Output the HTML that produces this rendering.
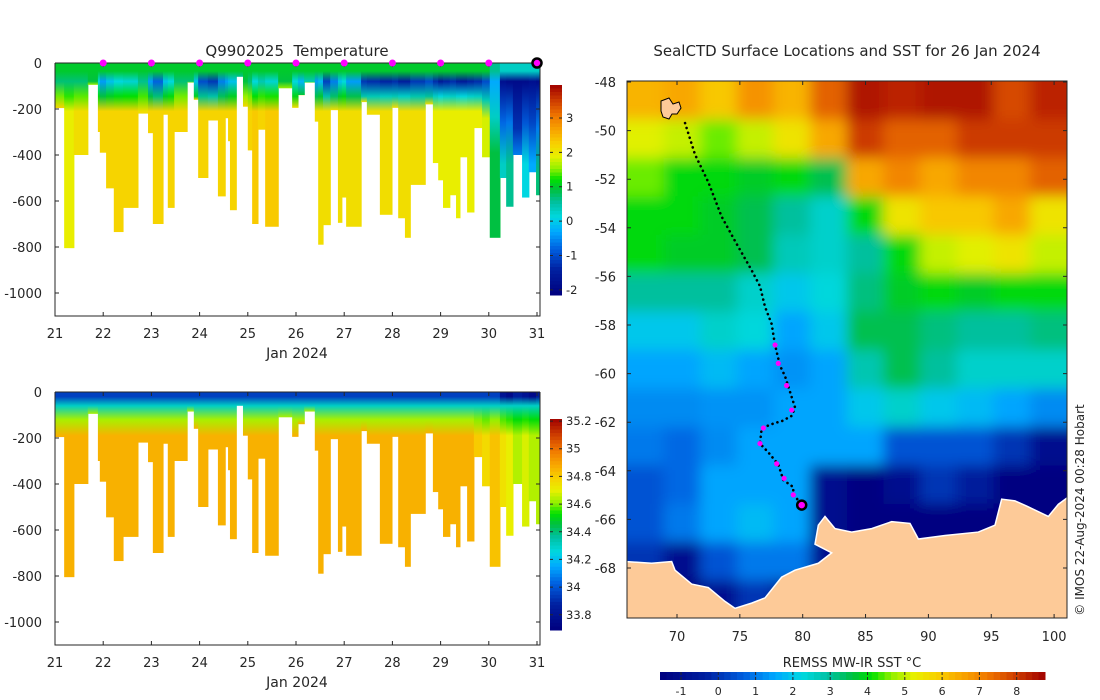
<!DOCTYPE html>
<html><head><meta charset="utf-8"><style>
html,body{margin:0;padding:0;background:#fff;}
svg{display:block;font-family:"DejaVu Sans","Liberation Sans",sans-serif;}
text{fill:#262626;}
</style></head><body>
<svg id="fig" width="1100" height="700" viewBox="0 0 1100 700" xmlns="http://www.w3.org/2000/svg">
<defs>
<filter id="blur" x="-5%" y="-5%" width="110%" height="110%"><feGaussianBlur stdDeviation="7"/></filter>
<clipPath id="mapclip"><rect x="627" y="81" width="440" height="537"/></clipPath>
<clipPath id="tclip"><rect x="55" y="63" width="485" height="253"/></clipPath>
<clipPath id="sclip"><rect x="55" y="392" width="485" height="253"/></clipPath>
</defs>
<text x="297" y="56" text-anchor="middle" font-size="15" style="white-space:pre">Q9902025  Temperature</text>
<text x="847" y="56" text-anchor="middle" font-size="15">SealCTD Surface Locations and SST for 26 Jan 2024</text>
<text x="297" y="358" text-anchor="middle" font-size="14">Jan 2024</text>
<text x="297" y="687" text-anchor="middle" font-size="14">Jan 2024</text>
<text x="852" y="667" text-anchor="middle" font-size="13">REMSS MW-IR SST °C</text>
<text transform="translate(1084,510) rotate(-90)" text-anchor="middle" font-size="12">© IMOS 22-Aug-2024 00:28 Hobart</text>
<g id="top"></g>
<g id="bot"></g>
<g id="map"></g>
</svg>
<script>
// ---------- profile data ----------
const profDays = [21.00,21.19,21.39,21.68,21.89,21.93,22.06,22.22,22.41,22.72,22.93,23.03,23.24,23.34,23.47,23.74,23.88,23.97,24.17,24.38,24.53,24.59,24.63,24.76,24.90,25.00,25.09,25.21,25.36,25.63,25.92,26.04,26.17,26.39,26.46,26.56,26.71,26.87,26.95,27.04,27.35,27.47,27.74,27.99,28.12,28.26,28.37,28.68,28.84,28.95,29.05,29.19,29.32,29.40,29.55,29.69,29.86,30.02,30.23,30.36,30.50,30.69,30.83,30.98];
const profEnd = 31.06;
const profDepth = [196,805,400,95,300,390,545,735,630,220,305,700,225,630,300,85,160,500,250,580,240,340,640,60,190,380,700,290,712,110,195,140,85,255,790,705,205,695,585,712,170,225,660,195,675,760,530,180,435,510,630,575,675,410,650,283,410,760,500,625,400,585,475,575];
const tSurf = [1,1,1,1,1,1,1,1,1,1,1,1,1,1,1,1,1,1,1,1,1,1,1,1,1,1,1,1,1,1,1,1,1,1,1,1,1,1,1,1,1,1,1,1,1,1,1,1,1,1,1,1,1,1,1,1,1,0.6,0.3,0.3,0.3,0.3,0.3,0.3];
const tMin = [0.7,0.7,0.7,0.9,0.1,-0.4,-0.1,0.1,0.2,0.6,-0.4,-0.8,-0.1,0.1,0.7,0.7,-0.1,-1.0,-1.2,-0.6,-0.4,-0.2,-0.1,0.6,0.9,0.7,0.1,0.4,0.2,0.9,0.1,-0.2,0.4,-0.4,-0.2,-1.1,-0.6,-0.1,0.1,-0.4,-1.2,-1.3,-1.4,-1.3,-1.5,-1.5,-1.2,-1.0,-1.3,-1.6,-1.4,-1.3,-1.5,-1.6,-1.4,-1.3,-1.0,-0.3,-1.8,-1.9,-1.9,-1.9,-1.8,-1.9];
const tDeep = [2.2,1.9,2.1,2.2,2.2,2.2,2.2,2.2,2.2,2.1,2.2,2.2,2.2,2.2,2.2,2.2,2.2,2.2,2.2,2.2,2.2,2.2,2.2,2.2,2.2,2.2,2.3,2.2,2.3,2.2,2.1,2.1,2.1,2.1,2.1,2.1,2.1,2.1,2.1,2.1,2.1,2.1,2.1,2.1,2.1,2.1,2.1,2.1,1.9,1.9,1.9,1.9,1.9,1.9,1.9,1.9,1.8,0.9,0.3,0.6,-0.6,0.1,-0.3,0.7];
const thermDepth = [170,170,170,170,170,170,170,170,170,170,170,170,170,170,170,170,170,170,170,170,170,170,170,170,170,170,170,170,170,170,170,170,170,170,170,170,170,170,170,170,170,170,170,170,170,170,170,170,170,170,170,170,170,170,170,170,200,350,400,400,450,400,400,450];
const sSurf = [33.95,33.95,33.95,33.95,33.95,33.95,33.95,33.95,33.95,33.95,33.95,33.95,33.95,33.95,33.95,33.95,33.95,33.95,33.95,33.95,33.95,33.95,33.95,33.95,33.95,33.95,33.95,33.95,33.95,33.95,33.95,33.95,33.95,33.95,33.95,33.95,33.95,33.95,33.95,33.95,33.95,33.95,33.95,33.95,33.95,33.95,33.95,33.95,33.95,33.95,33.95,33.95,33.95,33.95,33.95,33.95,33.95,33.95,33.8,33.75,33.85,33.8,33.75,33.85];
const sDeep = [34.86,34.86,34.86,34.86,34.86,34.86,34.86,34.86,34.86,34.86,34.86,34.86,34.86,34.86,34.86,34.86,34.86,34.86,34.86,34.86,34.86,34.86,34.86,34.86,34.86,34.86,34.86,34.86,34.86,34.86,34.86,34.86,34.86,34.86,34.86,34.86,34.86,34.86,34.86,34.86,34.86,34.86,34.86,34.86,34.86,34.86,34.86,34.86,34.86,34.86,34.86,34.86,34.86,34.86,34.86,34.8,34.76,34.82,34.74,34.7,34.64,34.68,34.64,34.64];
const markerDays = [22,23,24,25,26,27,28,29,30];
const lastDay = 31;
const dayTicks = [21,22,23,24,25,26,27,28,29,30,31];
const depthTicks = [0,-200,-400,-600,-800,-1000];
const tempTicks = [3,2,1,0,-1,-2];
const salTicks = [35.2,35,34.8,34.6,34.4,34.2,34,33.8];
const sstTicks = [-1,0,1,2,3,4,5,6,7,8];
const lonTicks = [70,75,80,85,90,95,100];
const latTicks = [-48,-50,-52,-54,-56,-58,-60,-62,-64,-66,-68];
// SST grid (rows north->south, cols west->east)
const sstGrid = [
[6.3,6.5,6,6.8,6.3,7.5,8.5,8.3,8.5,8.5,7.8,8.3],
[5.2,5,4.5,5,5.5,6.5,8,7.5,7.5,8,8,8],
[4.5,4,4,3.8,4,3.5,6.5,7,6.5,7,7,7.5],
[4,4,3.8,3.5,3,2.5,4,5.5,6,6,6.5,5.5],
[4,3.8,3.8,3.5,2.7,2.5,3,4,5,5.2,5.5,5],
[3,3,3,2.5,2,2.3,3.2,3.8,4,3.8,4,4],
[2,2,2.5,2.3,1.5,2,3.5,3.5,3.2,3,3,3.2],
[1.5,1.5,1.8,1.5,1.3,1.5,2.8,3.5,3,2.5,2.5,2.5],
[1.2,1.2,1.3,1.3,1.5,1.5,2,2.5,2,1.8,1.5,1.2],
[1,0.8,1.2,1.5,1.5,1.5,1.5,0.5,0.5,0.5,0,-1],
[0.5,0.8,1.5,1.5,1.5,-1,-1.5,-1,0,-0.5,-1.5,-1.5],
[0.5,1,1.5,1.8,1.5,-1,-1.5,-1.5,-1.5,-1.5,-1.5,-1.5],
[0,-1,0.5,1,1,-1,-1.5,-1.5,-1.5,-1.5,-1.5,-1.5],
[-1.5,-1.5,-1,0,-1.5,-1.5,-1.5,-1.5,-1.5,-1.5,-1.5,-1.5]];
const trackLon = [70.64,71.43,72.49,73.55,74.61,75.94,76.60,77.00,77.53,77.80,78.19,78.59,79.12,79.39,79.12,78.33,77.80,76.74,76.60,77.26,78.06,78.46,79.25,79.25,79.92];
const trackLat = [-49.69,-50.98,-52.12,-53.54,-54.54,-55.75,-56.40,-57.25,-57.96,-58.82,-59.67,-60.10,-60.96,-61.39,-61.74,-61.96,-62.03,-62.24,-62.88,-63.24,-63.74,-64.38,-64.67,-64.95,-65.41];
const magLon = [77.80,78.06,78.72,79.12,76.87,76.60,77.93,78.52,79.25];
const magLat = [-58.82,-59.58,-60.49,-61.50,-62.24,-62.88,-63.71,-64.31,-64.99];
const lastLon = 79.92, lastLat = -65.41;

// ---------- helpers ----------
const NS='http://www.w3.org/2000/svg';
function mk(tag, parent, attrs){const e=document.createElementNS(NS,tag);for(const k in attrs)e.setAttribute(k,attrs[k]);parent.appendChild(e);return e;}
const cstops=[[0,[0,0,127]],[0.12,[0,32,160]],[0.22,[0,96,224]],[0.3,[0,168,255]],[0.37,[0,216,224]],[0.44,[0,192,160]],[0.5,[0,192,64]],[0.55,[0,224,0]],[0.6,[144,240,0]],[0.66,[232,240,0]],[0.72,[248,208,0]],[0.78,[248,168,0]],[0.85,[240,120,0]],[0.92,[208,64,0]],[1,[160,0,0]]];
function cmap(f){f=Math.max(0,Math.min(1,f));for(let i=1;i<cstops.length;i++){if(f<=cstops[i][0]){const a=cstops[i-1],b=cstops[i];const t=(f-a[0])/(b[0]-a[0]);const c=a[1].map((v,j)=>Math.round(v+(b[1][j]-v)*t));return `rgb(${c[0]},${c[1]},${c[2]})`;}}return 'rgb(160,0,0)';}
const svgEl=document.getElementById('fig');
const defsEl=svgEl.querySelector('defs');

// ---------- section charts ----------
function section(gid, y0, clipId, cbTop, cbBot, cMin, cMax, ticksC, profileFn, prefix){
  const g=document.getElementById(gid);
  const X=d=>55+(d-21)*48.2;
  const Y=m=>y0+m*0.23;
  const C=v=>(v-cMin)/(cMax-cMin);
  const pg=mk('g',g,{'clip-path':`url(#${clipId})`});
  
  
  for(let i=0;i<profDays.length;i++){
    const x0=X(profDays[i]), x1=X(i+1<profDays.length?profDays[i+1]:profEnd);
    const dep=profDepth[i];
    const gid2=prefix+'g'+i;
    const lg=mk('linearGradient',defsEl,{id:gid2,gradientUnits:'userSpaceOnUse',x1:0,x2:0,y1:Y(0),y2:Y(dep)});
    profileFn(i).forEach(([d,v])=>{ mk('stop',lg,{offset:Math.min(1,d/dep),'stop-color':cmap(C(v))}); });
    const r=mk('rect',pg,{x:x0,y:Y(0),width:x1-x0+0.6,height:dep*0.23,fill:`url(#${gid2})`});
    
    
  }
  const ax=mk('path',g,{d:`M55,${y0}H540M55,${y0}V${y0+253}H540V${y0}`,stroke:'#262626','stroke-width':1,fill:'none'});
  
  
  dayTicks.forEach(d=>{
    const x=X(d);
    const t=mk('path',g,{d:`M${x},${y0+253}v-4M${x},${y0}v4`,stroke:'#262626'});
    
    
    const l=mk('text',g,{x:x,y:y0+275,'text-anchor':'middle','font-size':13});
    l.textContent=d;
    
    
  });
  depthTicks.forEach(m=>{
    const y=Y(-m);
    const t=mk('path',g,{d:`M55,${y}h4M540,${y}h-4`,stroke:'#262626'});
    
    
    const l=mk('text',g,{x:42,y:y+5,'text-anchor':'end','font-size':13});
    l.textContent=m;
    
    
  });
  const cb=mk('g',g,{});
  
  
  const n=60,h=(cbBot-cbTop)/n;
  for(let k=0;k<n;k++){
    const v=cMax-(k+0.5)*(cMax-cMin)/n;
    const r=mk('rect',cb,{x:550,y:cbTop+k*h,width:12,height:h+0.5,fill:cmap(C(v))});
    
    
  }
  const CY=v=>cbBot-(v-cMin)/(cMax-cMin)*(cbBot-cbTop);
  ticksC.forEach(v=>{
    const y=CY(v);
    const t=mk('path',cb,{d:`M562,${y}h-3M550,${y}h3`,stroke:'#262626'});
    
    
    const l=mk('text',cb,{x:566,y:y+4,'font-size':11.5});
    l.textContent=v;
    
    
  });
  return {X,Y};
}
const topSec=section('top',63,'tclip',85,295,-2.15,3.96,tempTicks,i=>[[0,tSurf[i]],[35,tSurf[i]],[80,tMin[i]],[thermDepth[i]*0.5+60,(tMin[i]+tDeep[i])/2],[thermDepth[i]+40,tDeep[i]],[2000,tDeep[i]]],'temp');
section('bot',392,'sclip',419,630,33.69,35.215,salTicks,i=>[[0,sSurf[i]],[20,sSurf[i]],[60,34.3],[120,(34.3+sDeep[i])/2+0.05],[190,sDeep[i]],[2000,sDeep[i]]],'sal');
const tg=document.getElementById('top');
markerDays.forEach(d=>{
  const c=mk('circle',tg,{cx:topSec.X(d),cy:63,r:3.5,fill:'#ff00ff'});
  
  
});
const lm=mk('circle',tg,{cx:topSec.X(lastDay),cy:63,r:4.5,fill:'#ff00ff',stroke:'#000','stroke-width':2.5});



// ---------- map ----------
const mg=document.getElementById('map');
const LX=lon=>677+(lon-70)*12.57;
const LY=lat=>82+(-48-lat)*24.3;
const lonW=66.02, lonE=101.0, latN=-47.96, latS=-70.1;
const nC=sstGrid[0].length, nR=sstGrid.length;
const dLon=(lonE-lonW)/nC, dLat=(latN-latS)/nR;
const SC=v=>(v+1.56)/(8.76+1.56);
const clipG=mk('g',mg,{'clip-path':'url(#mapclip)'});


const bl=mk('g',clipG,{filter:'url(#blur)'});
for(let r=0;r<nR;r++)for(let c=0;c<nC;c++){
  let x0=LX(lonW+c*dLon), x1=LX(lonW+(c+1)*dLon), y0=LY(latN-r*dLat), y1=LY(latN-(r+1)*dLat);
  if(c===0)x0-=40; if(c===nC-1)x1+=40; if(r===0)y0-=40; if(r===nR-1)y1+=40;
  const e=mk('rect',bl,{x:x0,y:y0,width:x1-x0+0.5,height:y1-y0+0.5,fill:cmap(SC(sstGrid[r][c]))});
  
  
}
const landZ=[[0,1395],[0,1600],[1340,1600],[1335,1205],[1300,1230],[1270,1265],[1205,1235],[1170,1220],[1130,1215],[1110,1290],[1060,1310],[960,1320],[880,1330],[855,1285],[800,1280],[740,1300],[680,1310],[630,1300],[600,1265],[580,1290],[570,1345],[620,1370],[580,1400],[510,1420],[470,1440],[420,1500],[380,1515],[330,1530],[300,1510],[250,1470],[200,1460],[150,1420],[140,1395],[80,1400]];
const land=mk('polygon',clipG,{points:landZ.map(p=>`${625+p[0]/3},${78+p[1]/2.885}`).join(' '),fill:'#fdca98',stroke:'#fff','stroke-width':1.5});


const isl=mk('path',clipG,{d:'M661,101l8,-3l4,6l6,-2l2,6l-4,6l-5,0l-3,5l-6,-2l-2,-6z',fill:'#fdca98',stroke:'#000','stroke-width':1});


const tr=mk('polyline',mg,{points:trackLon.map((l,i)=>`${LX(l)},${LY(trackLat[i])}`).join(' '),fill:'none',stroke:'#000','stroke-width':2.6,'stroke-dasharray':'0.1 5','stroke-linecap':'round'});


magLon.forEach((l,i)=>{
  const c=mk('circle',mg,{cx:LX(l),cy:LY(magLat[i]),r:2.6,fill:'#ff00ff'});
  
  
});
const lc=mk('circle',mg,{cx:LX(lastLon),cy:LY(lastLat),r:4.5,fill:'#ff00ff',stroke:'#000','stroke-width':2.5});


const fr=mk('rect',mg,{x:627,y:81,width:440,height:537,fill:'none',stroke:'#262626'});


lonTicks.forEach(l=>{
  const x=LX(l);
  const t=mk('path',mg,{d:`M${x},618v-4M${x},81v4`,stroke:'#262626'});
  
  
  const tx=mk('text',mg,{x:x,y:641,'text-anchor':'middle','font-size':13});
  tx.textContent=l;
  
  
});
latTicks.forEach(l=>{
  const y=LY(l);
  const t=mk('path',mg,{d:`M627,${y}h4M1067,${y}h-4`,stroke:'#262626'});
  
  
  const tx=mk('text',mg,{x:616,y:y+5,'text-anchor':'end','font-size':13});
  tx.textContent=l;
  
  
});
const scb=mk('g',mg,{});


const SX=v=>681+(v+1)*37.3;
for(let k=0;k<60;k++){
  const v=-1.56+(k+0.5)*(10.32/60);
  const w=385/60;
  const r=mk('rect',scb,{x:660+k*w,y:672,width:w+0.5,height:8,fill:cmap(SC(v))});
  
  
}
sstTicks.forEach(v=>{
  const x=SX(v);
  const t=mk('path',scb,{d:`M${x},672v3M${x},680v-3`,stroke:'#262626'});
  
  
  const tx=mk('text',scb,{x:x,y:695,'text-anchor':'middle','font-size':11});
  tx.textContent=v;
  
  
});
</script>
</body></html>
